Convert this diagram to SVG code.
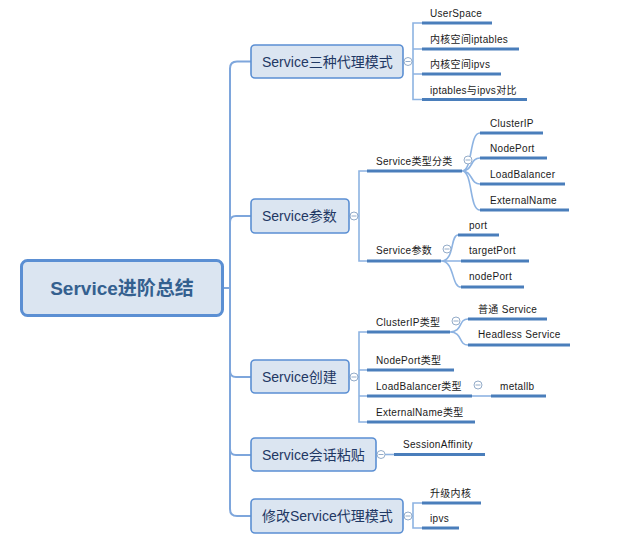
<svg xmlns="http://www.w3.org/2000/svg" width="643" height="544" viewBox="0 0 643 544">
<style>
.root{fill:#dbe5f1;stroke:#5b8fd3;stroke-width:3}
.rt{font-family:"Liberation Sans","Noto Sans CJK SC",sans-serif;font-size:19px;font-weight:bold;fill:#34608f}
.br{fill:#dbe5f1;stroke:#5b8fd3;stroke-width:1.6}
.bt{font-family:"Liberation Sans","Noto Sans CJK SC",sans-serif;font-size:14px;fill:#1f3864}
.lt{font-family:"Liberation Sans","Noto Sans CJK SC",sans-serif;font-size:10px;fill:#1a1a1a;letter-spacing:0.3px}
.ul{stroke:#4a7ebb;stroke-width:3;fill:none}
.cn{stroke:#8db3e2;stroke-width:1.6;fill:none}
.tr{stroke:#7ea6dc;stroke-width:2;fill:none}
.cc{fill:#fff;stroke:#94acc9;stroke-width:1}
.cm{stroke:#94acc9;stroke-width:1}
</style>
<rect width="643" height="544" fill="#fff"/>
<g id="connectors">
  <path class="tr" d="M222,288 L230,288"/>
  <path class="tr" d="M251,61.5 L237,61.5 Q230,61.5 230,68.5 L230,509 Q230,516 237,516 L251,516"/>
  <path class="tr" d="M230,222 Q230,216 236,216 L251,216"/>
  <path class="tr" d="M230,371 Q230,377 236,377 L251,377"/>
  <path class="tr" d="M230,449 Q230,455 236,455 L251,455"/>
  <!-- node1 children -->
  <path class="cn" d="M403,61.5 L413,61.5"/>
  <path class="cn" d="M422,23 L413,23 L413,99.5 L422,99.5 M413,49 L422,49 M413,74 L422,74"/>
  <!-- node2 children -->
  <path class="cn" d="M349,216 L359,216"/>
  <path class="cn" d="M367,171 L359,171 L359,261 L367,261"/>
  <path class="cn" d="M462,171 C473,171 469,133 480,133 M462,171 C473,171 470,158 480,158 M462,171 C473,171 470,184 480,184 M462,171 C473,171 469,210 480,210"/>
  <path class="cn" d="M441,261 C455,261 450,235 458,235 M441,261 L461,261 M441,261 C455,261 451,287 461,287"/>
  <!-- node3 children -->
  <path class="cn" d="M349,377 L359,377"/>
  <path class="cn" d="M367,332 L359,332 L359,422 L367,422 M359,370 L367,370 M359,396 L367,396"/>
  <path class="cn" d="M450,332 C463,332 458,319 468,319 M450,332 C463,332 458,345 468,345"/>
  <path class="cn" d="M472,396 L491,396"/>
  <!-- node4 -->
  <path class="cn" d="M376,454.5 L394,454.5"/>
  <!-- node5 -->
  <path class="cn" d="M403,516 L413,516"/>
  <path class="cn" d="M422,503 L413,503 L413,528 L422,528"/>
</g>
<g id="root">
  <rect class="root" x="21.5" y="260.5" width="201" height="55" rx="6"/>
  <text class="rt" x="122" y="295" text-anchor="middle">Service进阶总结</text>
</g>
<g id="n1">
  <rect class="br" x="251" y="45" width="152" height="33" rx="4"/>
  <text class="bt" x="262" y="66.5">Service三种代理模式</text>
  <circle class="cc" cx="408" cy="61.5" r="4"/><path class="cm" d="M405.5,61.5 H410.5"/>
</g>
<g id="n1-1"><text class="lt" x="430" y="17">UserSpace</text><path class="ul" d="M422,23 H492"/></g>
<g id="n1-2"><text class="lt" x="430" y="43">内核空间iptables</text><path class="ul" d="M422,49 H519"/></g>
<g id="n1-3"><text class="lt" x="430" y="68">内核空间ipvs</text><path class="ul" d="M422,74 H501"/></g>
<g id="n1-4"><text class="lt" x="430" y="93.5">iptables与ipvs对比</text><path class="ul" d="M422,99.5 H527"/></g>
<g id="n2">
  <rect class="br" x="251" y="199" width="98" height="34" rx="4"/>
  <text class="bt" x="262" y="221">Service参数</text>
  <circle class="cc" cx="354" cy="216" r="4"/><path class="cm" d="M351.5,216 H356.5"/>
</g>
<g id="n2-1">
  <text class="lt" x="376" y="165">Service类型分类</text><path class="ul" d="M367,171 H462"/>
  <circle class="cc" cx="468" cy="160" r="4"/><path class="cm" d="M465.5,160 H470.5"/>
</g>
<g id="n2-1-1"><text class="lt" x="490" y="127">ClusterIP</text><path class="ul" d="M480,133 H543"/></g>
<g id="n2-1-2"><text class="lt" x="490" y="152">NodePort</text><path class="ul" d="M480,158 H547"/></g>
<g id="n2-1-3"><text class="lt" x="490" y="178">LoadBalancer</text><path class="ul" d="M480,184 H565"/></g>
<g id="n2-1-4"><text class="lt" x="490" y="204">ExternalName</text><path class="ul" d="M480,210 H569"/></g>
<g id="n2-2">
  <text class="lt" x="376" y="254">Service参数</text><path class="ul" d="M367,261 H441"/>
  <circle class="cc" cx="447" cy="249" r="4"/><path class="cm" d="M444.5,249 H449.5"/>
</g>
<g id="n2-2-1"><text class="lt" x="469" y="229">port</text><path class="ul" d="M458,235 H499"/></g>
<g id="n2-2-2"><text class="lt" x="469" y="254">targetPort</text><path class="ul" d="M461,261 H529"/></g>
<g id="n2-2-3"><text class="lt" x="469" y="280">nodePort</text><path class="ul" d="M461,287 H524"/></g>
<g id="n3">
  <rect class="br" x="251" y="360" width="98" height="33" rx="4"/>
  <text class="bt" x="262" y="382">Service创建</text>
  <circle class="cc" cx="354" cy="377" r="4"/><path class="cm" d="M351.5,377 H356.5"/>
</g>
<g id="n3-1">
  <text class="lt" x="376" y="326">ClusterIP类型</text><path class="ul" d="M367,332 H450"/>
  <circle class="cc" cx="456" cy="321" r="4"/><path class="cm" d="M453.5,321 H458.5"/>
</g>
<g id="n3-1-1"><text class="lt" x="478" y="313">普通 Service</text><path class="ul" d="M468,319 H547"/></g>
<g id="n3-1-2"><text class="lt" x="478" y="338">Headless Service</text><path class="ul" d="M468,345 H570"/></g>
<g id="n3-2"><text class="lt" x="376" y="364">NodePort类型</text><path class="ul" d="M367,370 H454"/></g>
<g id="n3-3">
  <text class="lt" x="376" y="390">LoadBalancer类型</text><path class="ul" d="M367,396 H472"/>
  <circle class="cc" cx="478" cy="385" r="4"/><path class="cm" d="M475.5,385 H480.5"/>
</g>
<g id="n3-3-1"><text class="lt" x="500" y="390">metallb</text><path class="ul" d="M491,396 H546"/></g>
<g id="n3-4"><text class="lt" x="376" y="416">ExternalName类型</text><path class="ul" d="M367,422 H475"/></g>
<g id="n4">
  <rect class="br" x="251" y="438" width="125" height="33" rx="4"/>
  <text class="bt" x="262" y="459.5">Service会话粘贴</text>
  <circle class="cc" cx="381" cy="454.5" r="4"/><path class="cm" d="M378.5,454.5 H383.5"/>
</g>
<g id="n4-1"><text class="lt" x="403" y="448">SessionAffinity</text><path class="ul" d="M394,454.5 H485"/></g>
<g id="n5">
  <rect class="br" x="251" y="499" width="152" height="34" rx="4"/>
  <text class="bt" x="262" y="521">修改Service代理模式</text>
  <circle class="cc" cx="408" cy="516" r="4"/><path class="cm" d="M405.5,516 H410.5"/>
</g>
<g id="n5-1"><text class="lt" x="430" y="497">升级内核</text><path class="ul" d="M422,503 H481"/></g>
<g id="n5-2"><text class="lt" x="430" y="522">ipvs</text><path class="ul" d="M422,528 H459"/></g>
</svg>
